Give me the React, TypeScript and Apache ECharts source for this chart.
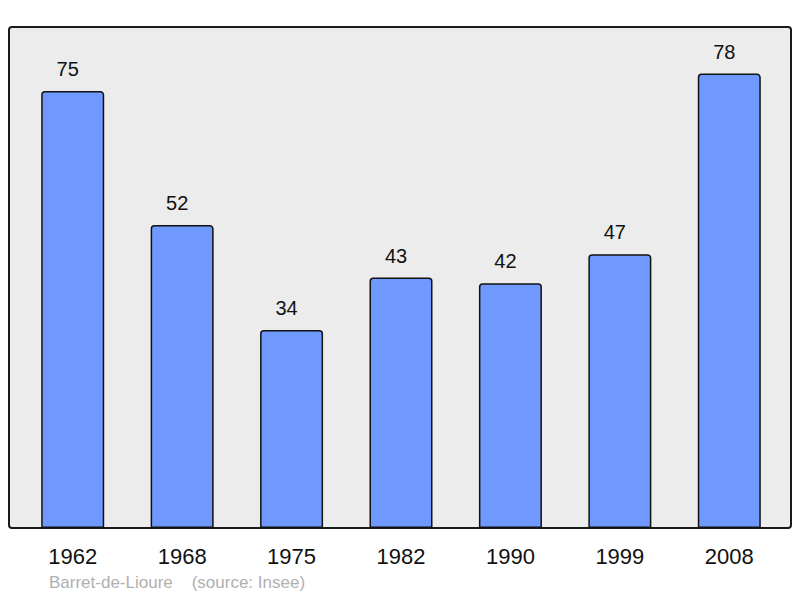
import React, { useRef, useEffect } from 'react';
import * as echarts from 'echarts';

const years = ['1962', '1968', '1975', '1982', '1990', '1999', '2008'];
const population = [75, 52, 34, 43, 42, 47, 78];
const footer = 'Barret-de-Lioure    (source: Insee)';

const App: React.FC = () => {
  const chartRef = useRef<HTMLDivElement>(null);

  useEffect(() => {
    document.body.style.margin = '0';
    if (!chartRef.current) return;
    const chart = echarts.init(chartRef.current, null, { renderer: 'svg' });

    chart.setOption({
      animation: false,
      textStyle: { fontFamily: 'Liberation Sans' },
      graphic: [
        {
          type: 'rect',
          z: -10,
          shape: { x: 9, y: 27, width: 782, height: 501, r: 3 },
          style: { fill: '#ececec', stroke: '#1a1a1a', lineWidth: 2 }
        },
        {
          type: 'text',
          left: 49,
          top: 574,
          style: {
            text: footer,
            fill: '#b0b0b0',
            font: '17px "Liberation Sans"'
          }
        }
      ],
      grid: { left: 18, width: 766, top: 27, height: 501 },
      xAxis: {
        type: 'category',
        data: years,
        axisLine: { show: false },
        axisTick: { show: false },
        axisLabel: { color: '#111', fontSize: 22, margin: 17 }
      },
      yAxis: {
        type: 'value',
        min: 0,
        max: 86,
        show: false,
        splitLine: { show: false }
      },
      series: [
        {
          type: 'bar',
          data: population,
          barWidth: 63,
          itemStyle: {
            color: '#7099ff',
            borderColor: '#111',
            borderWidth: 1.5,
            borderRadius: [3, 3, 0, 0]
          },
          label: {
            show: true,
            position: 'top',
            distance: 12,
            offset: [-5, 0],
            color: '#111',
            fontSize: 20
          }
        }
      ]
    });

    return () => chart.dispose();
  }, []);

  return <div ref={chartRef} style={{ width: 800, height: 598 }} />;
};

export default App;
